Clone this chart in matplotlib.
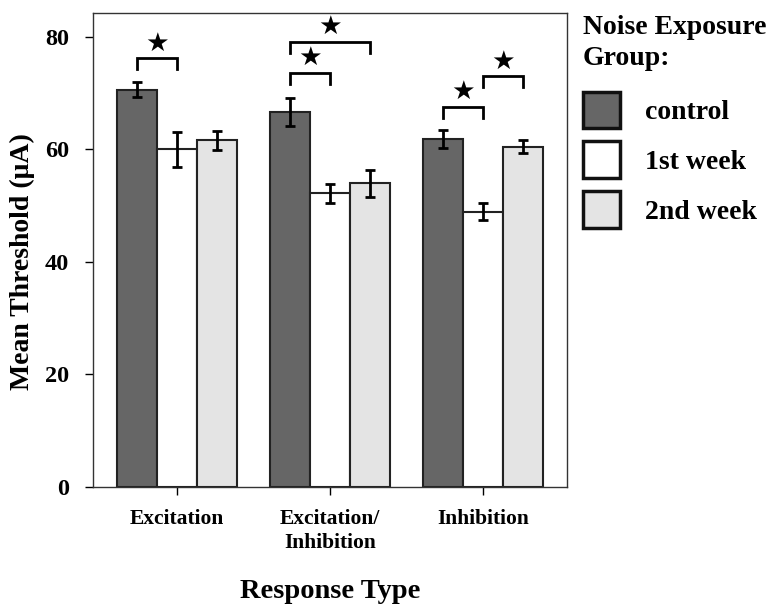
import matplotlib
matplotlib.use("Agg")
import matplotlib.pyplot as plt
import numpy as np

categories = ["Excitation", "Excitation/\nInhibition", "Inhibition"]
groups = ["control", "1st week", "2nd week"]
means = {
    "control": [70.6, 66.7, 61.8],
    "1st week": [60.0, 52.2, 48.9],
    "2nd week": [61.6, 54.0, 60.5],
}
errors = {
    "control": [1.3, 2.5, 1.6],
    "1st week": [3.1, 1.7, 1.5],
    "2nd week": [1.7, 2.4, 1.2],
}
# significance brackets: (category index, group a, group b, bracket height)
sig_pairs = [(0, 0, 1, 76.2), (1, 0, 1, 73.6), (1, 0, 2, 79.1), (2, 0, 1, 67.6), (2, 1, 2, 73.0)]
colors = {"control": "#666666", "1st week": "#ffffff", "2nd week": "#e4e4e4"}

plt.rcParams['font.family'] = ['Liberation Serif', 'DejaVu Serif']
plt.rcParams['font.weight'] = 'bold'

fig = plt.figure(figsize=(7.74, 6.08), dpi=100)
ax = fig.add_axes([0.1198, 0.1995, 0.6128, 0.7796])

x = np.arange(len(categories))
w = 0.261
offsets = [-w, 0, w]
for g, off in zip(groups, offsets):
    ax.bar(x + off, means[g], w, color=colors[g], edgecolor="#222222", linewidth=1.5,
           label=g, zorder=2)
    ax.errorbar(x + off, means[g], yerr=errors[g], fmt="none", ecolor="black",
                elinewidth=2, capsize=3.6, capthick=2, zorder=3)

leg = 2.0
for ci, a, b, h in sig_pairs:
    xa = x[ci] + offsets[a]
    xb = x[ci] + offsets[b]
    ax.plot([xa, xa, xb, xb], [h - leg, h, h, h - leg], color="black", lw=2,
            solid_joinstyle="miter", zorder=3)
    ax.text((xa + xb) / 2, h + 2.6, "\u2605", ha="center", va="center", fontsize=19,
            family="DejaVu Sans", color="black")

ax.set_xlim(-0.553, 2.547)
ax.set_ylim(0, 84.3)
ax.set_yticks([0, 20, 40, 60, 80])
ax.set_xticks(x)
ax.set_xticklabels(categories, fontsize=15.5, fontweight="bold", linespacing=1.3)
ax.tick_params(axis="y", labelsize=17.5, length=6, width=1, pad=11, direction="out")
ax.tick_params(axis="x", length=6, width=1, pad=10, direction="out")
for s in ax.spines.values():
    s.set_color("#333333")
    s.set_linewidth(1)

ax.set_ylabel("Mean Threshold (\u03bcA)", fontsize=20, fontweight="bold")
ax.yaxis.set_label_coords(-0.121, 0.474)
ax.set_xlabel("Response Type", fontsize=20.5, fontweight="bold", labelpad=18.5)

handles, labels = ax.get_legend_handles_labels()
lg = fig.legend(handles, labels, loc="upper left", bbox_to_anchor=(0.7205, 1.0165),
                frameon=False, fontsize=20, title="Noise Exposure\nGroup:",
                title_fontproperties={"size": 20, "weight": "bold"},
                handlelength=1.33, handleheight=1.65, labelspacing=0.48,
                handletextpad=0.9, alignment="left")
lg.get_title().set_linespacing(1.3)
lg._legend_box.sep = 15
for p in lg.get_patches():
    p.set_linewidth(2.5)
    p.set_edgecolor("#111111")

fig.savefig("out.png", dpi=100)
